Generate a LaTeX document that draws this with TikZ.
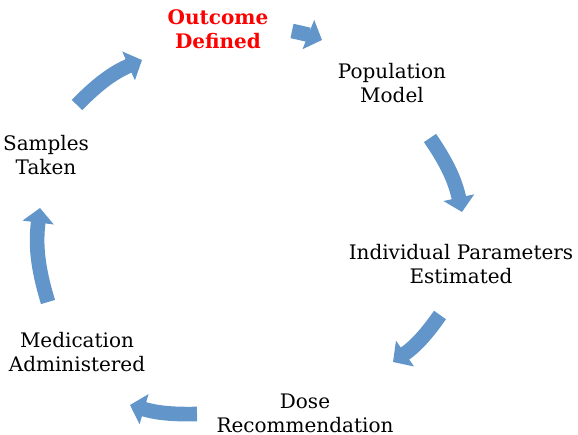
\documentclass[tikz,border=0pt]{standalone}
\usepackage{fontspec}
\usetikzlibrary{arrows.meta}
\newfontfamily\cyclefont{DejaVu Serif}
\definecolor{cycblue}{RGB}{98,149,201}
\definecolor{outred}{RGB}{255,0,0}

\begin{document}
\begin{tikzpicture}[x=.75pt,y=.75pt,
  lbl/.style={align=center,inner sep=0pt,font=\cyclefont\fontsize{15}{18}\selectfont},
  cyc/.style={draw=cycblue,line width=11pt,-{Triangle[width=23pt,length=11pt]}}]

\useasboundingbox (0,0) rectangle (578,435);

\node[lbl,text=outred,font=\cyclefont\bfseries\fontsize{15}{18}\selectfont] (outcome) at (218,406) {Outcome\\Defined};
\node[lbl] (pop) at (392,351.5) {Population\\Model};
\node[lbl] (indiv) at (461,171) {Individual Parameters\\Estimated};
\node[lbl] (dose) at (305,22) {Dose\\Recommendation};
\node[lbl] (med) at (77,83) {Medication\\Administered};
\node[lbl] (samples) at (46,280) {Samples\\Taken};

% arrow ends
\coordinate (a1s) at (292,404); \coordinate (a1e) at (322,395);
\coordinate (a2s) at (430,297); \coordinate (a2e) at (462,223);
\coordinate (a3s) at (440,120); \coordinate (a3e) at (393,73);
\coordinate (a4s) at (197,21);  \coordinate (a4e) at (130,30);
\coordinate (a5s) at (48,133);  \coordinate (a5e) at (40,227);
\coordinate (a6s) at (77,330);  \coordinate (a6e) at (142,375);

\draw[cyc] (a1s) to[bend left=5] (a1e);
\draw[cyc] (a2s) to[bend left=11] (a2e);
\draw[cyc] (a3s) to[bend left=10] (a3e);
\draw[cyc] (a4s) to[bend left=9] (a4e);
\draw[cyc] (a5s) to[bend left=12] (a5e);
\draw[cyc] (a6s) to[bend left=11] (a6e);

\end{tikzpicture}
\end{document}
